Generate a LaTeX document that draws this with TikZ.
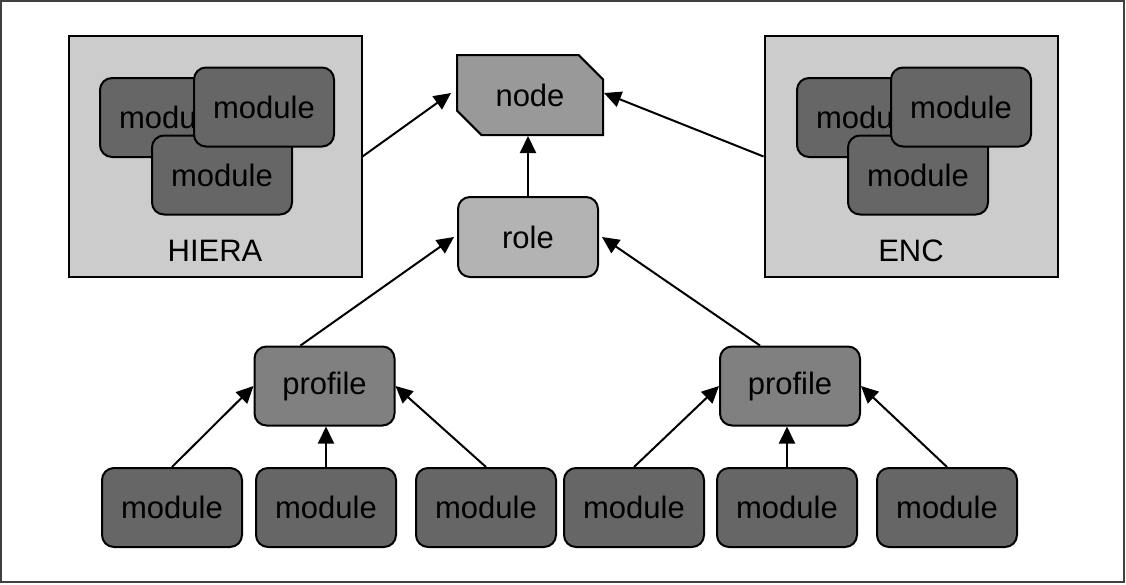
\documentclass[tikz,border=0pt]{standalone}
\usepackage{fontspec}
\setmainfont{Liberation Sans}
\usetikzlibrary{arrows.meta,shapes.misc}
\definecolor{modfill}{HTML}{666666}
\definecolor{proffill}{HTML}{808080}
\definecolor{rolefill}{HTML}{B3B3B3}
\definecolor{nodefill}{HTML}{999999}
\definecolor{boxfill}{HTML}{CCCCCC}
\tikzset{
  base/.style={draw=black, line width=2pt, inner sep=0pt, font=\fontsize{31}{35}\selectfont},
  modbox/.style={base, rounded corners=12pt, fill=modfill, minimum width=140pt, minimum height=79pt},
  profbox/.style={base, rounded corners=12pt, fill=proffill, minimum width=140pt, minimum height=79pt},
  rolebox/.style={base, rounded corners=12pt, fill=rolefill, minimum width=140pt, minimum height=80pt},
  nodebox/.style={base, chamfered rectangle, chamfered rectangle corners={north east,south west},
     chamfered rectangle xsep=13pt, chamfered rectangle ysep=13pt, fill=nodefill,
     minimum width=146pt, minimum height=80pt},
  container/.style={base, fill=boxfill, minimum width=293pt, minimum height=241pt},
  arr/.style={line width=2pt, -{Triangle[length=17pt,width=16pt]}},
}
\begin{document}
\begin{tikzpicture}[x=1pt,y=-1pt]
\useasboundingbox (0,0) rectangle (1126,584);
\draw[line width=2pt, draw=black!75] (1,1) rectangle (1124,582);

% containers
\node[container] (hiera) at (215,156.5) {};
\node[container] (enc) at (911,156.5) {};
\node[base, draw=none, fill=none] (hieralbl) at (215,251) {HIERA};
\node[base, draw=none, fill=none] (enclbl) at (911,251) {ENC};

% modules inside HIERA
\node[modbox] (hm1) at (170,117.5) {module};
\node[modbox] (hm3) at (222,175) {module};
\node[modbox] (hm2) at (264,107) {module};
% modules inside ENC
\node[modbox] (em1) at (867,117.5) {module};
\node[modbox] (em3) at (918,175) {module};
\node[modbox] (em2) at (961,107) {module};

% main nodes
\node[nodebox] (nd) at (530,95) {node};
\node[rolebox] (role) at (528,237) {role};
\node[profbox] (pl) at (324.5,386) {profile};
\node[profbox] (pr) at (790,386) {profile};

% bottom modules
\node[modbox] (m1) at (172,507.5) {module};
\node[modbox] (m2) at (326,507.5) {module};
\node[modbox] (m3) at (486,507.5) {module};
\node[modbox] (m4) at (634,507.5) {module};
\node[modbox] (m5) at (787,507.5) {module};
\node[modbox] (m6) at (947,507.5) {module};

% connectors
\draw[arr] (hiera.east) -- ([xshift=-5pt,yshift=2pt]nd.west);
\draw[arr] (enc.west) -- ([yshift=2pt]nd.east);
\draw[arr] (role.north) -- (role.north |- nd.south);
\draw[arr] ([xshift=-24pt]pl.north) -- ([xshift=-3pt]role.west);
\draw[arr] ([xshift=-30pt]pr.north) -- ([xshift=3pt]role.east);
\draw[arr] (m1.north) -- (pl.west);
\draw[arr] (m2.north) -- (m2.north |- pl.south);
\draw[arr] (m3.north) -- (pl.east);
\draw[arr] (m4.north) -- (pr.west);
\draw[arr] (m5.north) -- (m5.north |- pr.south);
\draw[arr] (m6.north) -- (pr.east);
\end{tikzpicture}
\end{document}
